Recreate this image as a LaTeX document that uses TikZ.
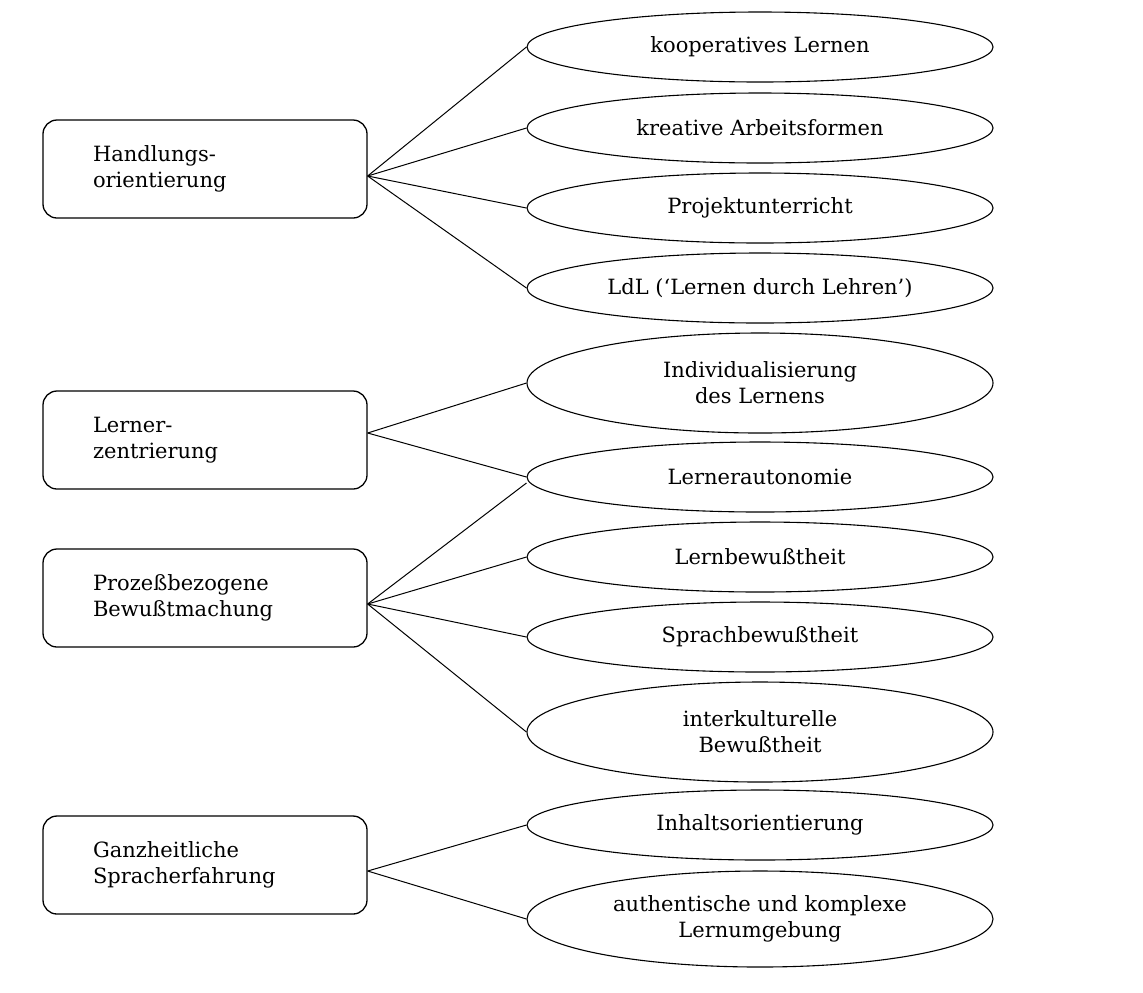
\documentclass[tikz,border=0pt]{standalone}
\usepackage{fontspec}
\setmainfont{DejaVu Serif}
\usepackage{tikz}
\usetikzlibrary{shapes.geometric}

\begin{document}
\begin{tikzpicture}[x=0.5pt, y=-0.5pt,
  box/.style={draw, rectangle, rounded corners=7pt, line width=0.65pt,
              minimum height=49pt, text width=112pt, inner xsep=25pt,
              align=left, font=\fontsize{10.5}{13}\selectfont},
  oval/.style={draw, ellipse, line width=0.55pt, minimum width=233pt,
               minimum height=#1, inner sep=0pt, align=center,
               font=\fontsize{10.5}{13}\selectfont},
  oval/.default=35pt,
  link/.style={line width=0.5pt}
]
  \useasboundingbox (0,0) rectangle (1143,992);

  % main areas
  \node[box] (hand) at (205,169) {Handlungs-\\orientierung};
  \node[box] (lern) at (205,440) {Lerner-\\zentrierung};
  \node[box] (proz) at (205,598) {Prozeßbezogene\\Bewußtmachung};
  \node[box] (ganz) at (205,865) {Ganzheitliche\\Spracherfahrung};

  % methods
  \node[oval] (koop)    at (760,47)  {kooperatives Lernen};
  \node[oval] (krea)    at (760,128) {kreative Arbeitsformen};
  \node[oval] (proj)    at (760,208) {Projektunterricht};
  \node[oval] (ldl)     at (760,288) {LdL (‘Lernen durch Lehren’)};
  \node[oval=50pt] (indiv) at (760,383) {Individualisierung\\des Lernens};
  \node[oval] (auto)    at (760,477) {Lernerautonomie};
  \node[oval] (lbew)    at (760,557) {Lernbewußtheit};
  \node[oval] (sbew)    at (760,637) {Sprachbewußtheit};
  \node[oval=50pt] (ikult) at (760,732) {interkulturelle\\Bewußtheit};
  \node[oval] (inhalt)  at (760,825) {Inhaltsorientierung};
  \node[oval=48pt] (authent) at (760,919) {authentische und komplexe\\Lernumgebung};

  % connections
  \draw[link] ([yshift=-3.5pt]hand.east) -- (koop.west);
  \draw[link] ([yshift=-3.5pt]hand.east) -- (krea.west);
  \draw[link] ([yshift=-3.5pt]hand.east) -- (proj.west);
  \draw[link] ([yshift=-3.5pt]hand.east) -- (ldl.west);

  \draw[link] ([yshift=3.5pt]lern.east) -- (indiv.west);
  \draw[link] ([yshift=3.5pt]lern.east) -- (auto.west);

  \draw[link] ([yshift=-3pt]proz.east) -- ([yshift=-3pt]auto.west);
  \draw[link] ([yshift=-3pt]proz.east) -- (lbew.west);
  \draw[link] ([yshift=-3pt]proz.east) -- (sbew.west);
  \draw[link] ([yshift=-3pt]proz.east) -- (ikult.west);

  \draw[link] ([yshift=-3pt]ganz.east) -- (inhalt.west);
  \draw[link] ([yshift=-3pt]ganz.east) -- (authent.west);
\end{tikzpicture}
\end{document}
